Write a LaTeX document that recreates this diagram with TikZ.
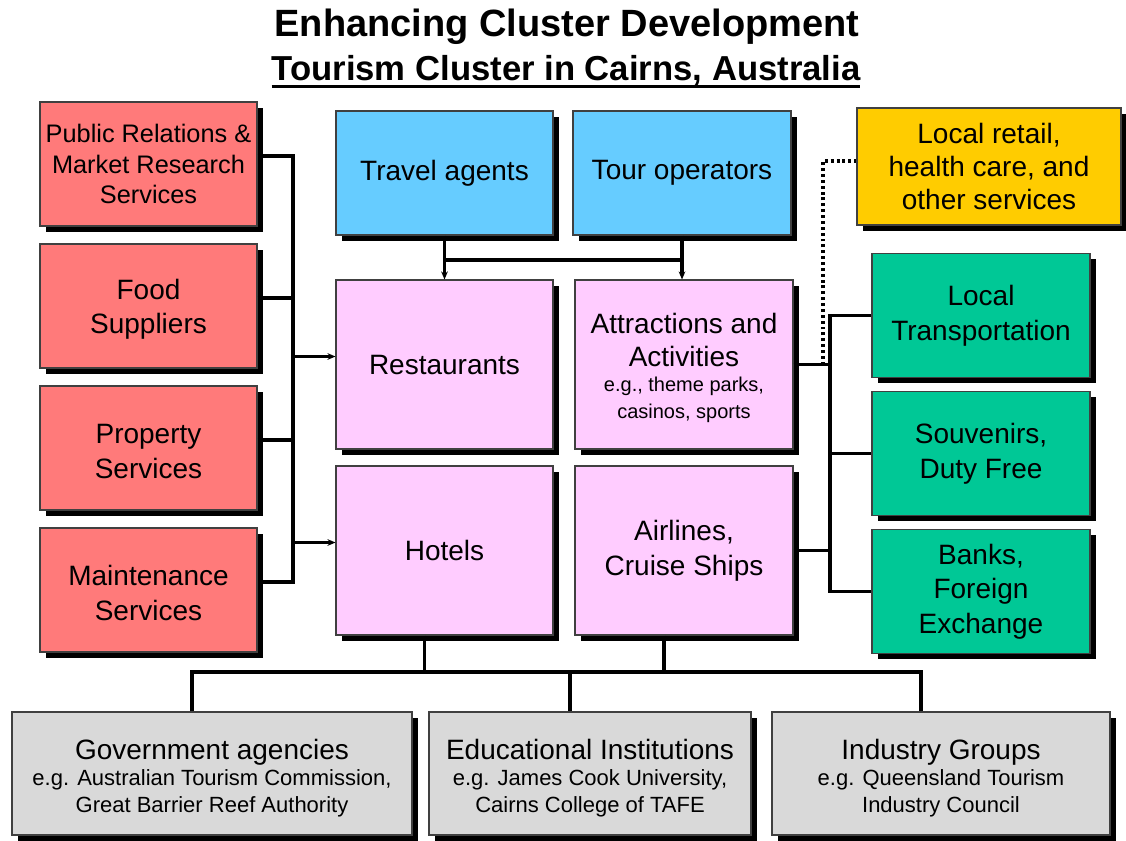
\documentclass[tikz,border=0pt]{standalone}
\usepackage{fontspec}
\setmainfont{Liberation Sans}
\usetikzlibrary{shadows,arrows.meta}
\definecolor{redf}{RGB}{255,122,122}
\definecolor{bluef}{RGB}{102,204,255}
\definecolor{pinkf}{RGB}{255,204,255}
\definecolor{yellowf}{RGB}{255,204,0}
\definecolor{greenf}{RGB}{0,200,150}
\definecolor{grayf}{RGB}{217,217,217}
\newcommand{\thickul}[1]{\setbox0\hbox{#1}\leavevmode\rlap{\rule[-5.5pt]{\wd0}{2.4pt}}\box0}
\newcommand{\smA}{\fontsize{15}{20}\selectfont}
\newcommand{\smB}{\fontsize{16.5}{20}\selectfont}
\newcommand{\topstrut}[1]{\rule{0pt}{#1}}
\begin{document}
\begin{tikzpicture}[x=0.75pt,y=-0.75pt,
  box/.style={draw=black!75, line width=0.8pt, align=center, text=black,
    font=\fontsize{21}{26}\selectfont, inner sep=2pt,
    drop shadow={shadow xshift=4.2pt, shadow yshift=-4.2pt, fill=black, opacity=1}},
  lbox/.style={box, fill=redf, minimum width=162.75pt, minimum height=93pt},
  bbox/.style={box, fill=bluef, minimum height=93pt},
  pbox/.style={box, fill=pinkf, minimum height=126.75pt},
  gbox/.style={box, fill=greenf, minimum width=163.5pt, minimum height=93pt},
  ybox/.style={box, fill=yellowf, minimum width=198pt, minimum height=87.75pt, font=\fontsize{21}{25}\selectfont},
  kbox/.style={box, fill=grayf, minimum height=92.25pt},
  conn/.style={line width=2.5pt, black},
  arr/.style={conn, -{Stealth[length=6pt,width=5pt]}},
  dots/.style={line width=2.6pt, black, dash pattern=on 2.2pt off 2.2pt}
]
\fill[white] (0,0) rectangle (1126,840);
\useasboundingbox (0,0) rectangle (1126,840);

% title
\node (t1) at (567,27) {\fontsize{28.5}{32}\selectfont\bfseries Enhancing Cluster Development};
\node (t2) at (566,72) {\fontsize{26}{30}\selectfont\bfseries\thickul{Tourism Cluster in Cairns, Australia}};

% left boxes
\node[lbox, font=\fontsize{19}{23}\selectfont] (r1) at (148.5,164) {Public Relations \&\\Market Research\\Services};
\node[lbox] (r2) at (148.5,306) {\topstrut{20pt}Food\\Suppliers};
\node[lbox] (r3) at (148.5,448) {\topstrut{20pt}Property\\Services};
\node[lbox] (r4) at (148.5,590) {\topstrut{20pt}Maintenance\\Services};

% blue
\node[bbox, minimum width=162.75pt] (ta) at (444.5,173) {Travel agents};
\node[bbox, minimum width=163.5pt] (to) at (682,173) {Tour operators};

% pink
\node[pbox, minimum width=162.75pt] (rest) at (444.5,364.5) {Restaurants};
\node[pbox, minimum width=163.5pt] (attr) at (684,364.5) {\topstrut{20pt}Attractions and\\[-1pt]Activities\\[-7pt]\smA e.g., theme parks,\\[-6pt]\smA casinos, sports};
\node[pbox, minimum width=162.75pt] (hot) at (444.5,550.5) {Hotels};
\node[pbox, minimum width=163.5pt] (air) at (684,550.5) {Airlines,\\Cruise Ships};

% yellow
\node[ybox] (yl) at (989,166.5) {Local retail,\\health care, and\\other services};

% green
\node[gbox] (g1) at (981,315.5) {Local\\Transportation};
\node[gbox] (g2) at (981,453.5) {Souvenirs,\\Duty Free};
\node[gbox] (g3) at (981,591.5) {Banks,\\Foreign\\Exchange};

% gray
\node[kbox, minimum width=300pt] (gov) at (212,773.5) {\topstrut{22pt}Government agencies\\[-6pt]\smB e.g. Australian Tourism Commission,\\[-6pt]\smB Great Barrier Reef Authority};
\node[kbox, minimum width=241.5pt] (edu) at (590,773.5) {\topstrut{22pt}Educational Institutions\\[-6pt]\smB e.g. James Cook University,\\[-6pt]\smB Cairns College of TAFE};
\node[kbox, minimum width=253.5pt] (ind) at (941,773.5) {\topstrut{22pt}Industry Groups\\[-6pt]\smB e.g. Queensland Tourism\\[-6pt]\smB Industry Council};

% left bus
\coordinate (lb) at (293,0);
\coordinate (r1e) at ([yshift=6pt]r1.east);
\coordinate (r2e) at ([yshift=6pt]r2.east);
\coordinate (r3e) at ([yshift=6pt]r3.east);
\coordinate (r4e) at ([yshift=6pt]r4.east);
\coordinate (restw) at ([yshift=6pt]rest.west);
\coordinate (hotw) at ([yshift=6pt]hot.west);
\draw[conn] (r1e) -- (r1e -| lb) -- (r4e -| lb) -- (r4e);
\draw[conn] (r2e) -- (r2e -| lb);
\draw[conn] (r3e) -- (r3e -| lb);
\draw[arr] (restw -| lb) -- (restw);
\draw[arr] (hotw -| lb) -- (hotw);

% blue to pink
\coordinate (tb) at (0,260);
\draw[conn] (ta.south |- tb) -- (to.south |- tb);
\draw[arr] (ta.south) -- (rest.north);
\draw[arr] (to.south) -- (to.south |- attr.north);

% right bus
\coordinate (rb) at (830,0);
\coordinate (db) at (823,0);
\coordinate (ylw) at ([yshift=4pt]yl.west);
\draw[dots] (attr.east) -- (attr.east -| db) -- (ylw -| db) -- (ylw);
\draw[conn] (attr.east) -- (attr.east -| rb);
\draw[conn] (air.east) -- (air.east -| rb);
\draw[conn] (g1.west) -- (g1.west -| rb) -- (g3.west -| rb) -- (g3.west);
\draw[conn] (g2.west -| rb) -- (g2.west);

% bottom bus
\coordinate (bb) at (0,672);
\coordinate (hs) at ([xshift=-15pt]hot.south);
\coordinate (as) at ([xshift=-15pt]air.south);
\coordinate (gn) at ([xshift=-15pt]gov.north);
\coordinate (en) at ([xshift=-15pt]edu.north);
\coordinate (inn) at ([xshift=-15pt]ind.north);
\draw[conn] (hs) -- (hs |- bb);
\draw[conn] (as) -- (as |- bb);
\draw[conn] (gn) -- (gn |- bb) -- (inn |- bb) -- (inn);
\draw[conn] (en |- bb) -- (en);
\end{tikzpicture}
\end{document}
